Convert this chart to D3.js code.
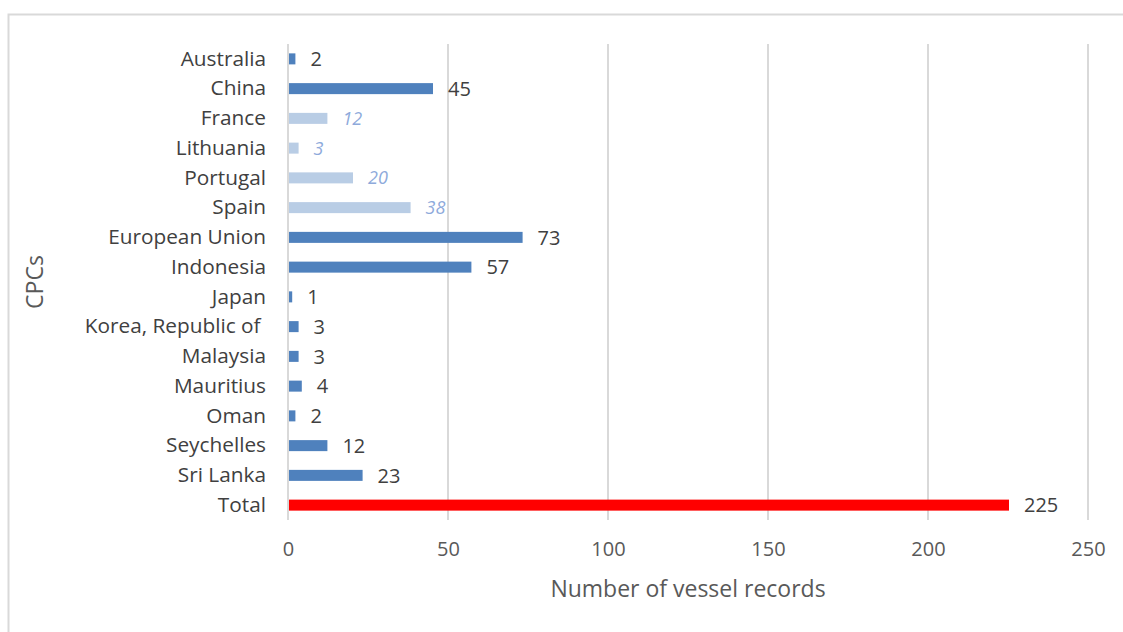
<!DOCTYPE html>
<html>
<head>
<meta charset="utf-8">
<script src="https://cdn.jsdelivr.net/npm/d3@7"></script>
<style>
  html, body { margin: 0; padding: 0; background: #fff; }
  svg { display: block; }
  text { font-family: "Open Sans", "Noto Sans", sans-serif; white-space: pre; }
</style>
</head>
<body>
<svg id="chart" width="1123" height="632"></svg>
<script>
// CPC vessel record counts
const categories = ["Australia", "China", "France", "Lithuania", "Portugal", "Spain",
  "European Union", "Indonesia", "Japan", "Korea, Republic of ", "Malaysia", "Mauritius",
  "Oman", "Seychelles", "Sri Lanka", "Total"];
const values = [2, 45, 12, 3, 20, 38, 73, 57, 1, 3, 3, 4, 2, 12, 23, 225];
// member states shown as a subset of the European Union
const memberStates = ["France", "Lithuania", "Portugal", "Spain"];
const xTicks = [0, 50, 100, 150, 200, 250];

const rows = categories.map((c, i) => ({ name: c, value: values[i] }));

const svg = d3.select("#chart");
const W = 1123, H = 632;
const margin = { left: 288, right: 35, top: 44, bottom: 112 };

// outer chart frame
svg.append("rect")
  .attr("x", 8.5).attr("y", 14.5)
  .attr("width", W + 10).attr("height", H + 10)
  .attr("fill", "none").attr("stroke", "#d9d9d9").attr("stroke-width", 2);

const x = d3.scaleLinear().domain([0, 250]).range([margin.left, W - margin.right]);
const y = d3.scaleBand().domain(categories).range([margin.top, H - margin.bottom])
  .paddingInner(0.63).paddingOuter(0.315);

// vertical gridlines
svg.append("g")
  .selectAll("line")
  .data(xTicks)
  .join("line")
  .attr("x1", d => x(d)).attr("x2", d => x(d))
  .attr("y1", margin.top).attr("y2", H - margin.bottom)
  .attr("stroke", "#d9d9d9").attr("stroke-width", 2);

// x axis tick labels
const xAxis = d3.axisBottom(x).tickValues(xTicks).tickSize(0).tickPadding(22);
const gx = svg.append("g")
  .attr("transform", `translate(0,${H - margin.bottom})`)
  .call(xAxis);
gx.select(".domain").remove();
gx.selectAll("text")
  .attr("fill", "#595959").style("font-size", "20px")
  .style("font-family", "'Open Sans', sans-serif");

// y axis category labels
const yAxis = d3.axisLeft(y).tickSize(0).tickPadding(22);
const gy = svg.append("g")
  .attr("transform", `translate(${margin.left},0)`)
  .call(yAxis);
gy.select(".domain").remove();
gy.selectAll("text")
  .attr("fill", "#404040").style("font-size", "20.8px")
  .style("font-family", "'Open Sans', sans-serif")
  .style("white-space", "pre");

const colorFor = d => d.name === "Total" ? "#ff0000"
  : memberStates.includes(d.name) ? "#b9cde5" : "#4f81bd";

// bars
svg.append("g")
  .selectAll("rect")
  .data(rows)
  .join("rect")
  .attr("x", x(0) + 1)
  .attr("y", d => y(d.name))
  .attr("width", d => x(d.value) - x(0))
  .attr("height", y.bandwidth())
  .attr("fill", colorFor);

// value labels
svg.append("g")
  .selectAll("text")
  .data(rows)
  .join("text")
  .attr("x", d => x(d.value) + 16)
  .attr("y", d => y(d.name) + y.bandwidth() / 2)
  .attr("dy", "0.36em")
  .attr("fill", d => memberStates.includes(d.name) ? "#8eaadb" : "#404040")
  .style("font-style", d => memberStates.includes(d.name) ? "italic" : "normal")
  .style("font-size", d => memberStates.includes(d.name) ? "18px" : "20px")
  .text(d => d.value);

// axis titles
svg.append("text")
  .attr("x", (x(0) + x(250)) / 2)
  .attr("y", 597)
  .attr("text-anchor", "middle")
  .attr("fill", "#595959")
  .style("font-size", "23px")
  .text("Number of vessel records");

svg.append("text")
  .attr("transform", `translate(43,${(margin.top + H - margin.bottom) / 2}) rotate(-90)`)
  .attr("text-anchor", "middle")
  .attr("fill", "#595959")
  .style("font-size", "23px")
  .text("CPCs");
</script>
</body>
</html>
